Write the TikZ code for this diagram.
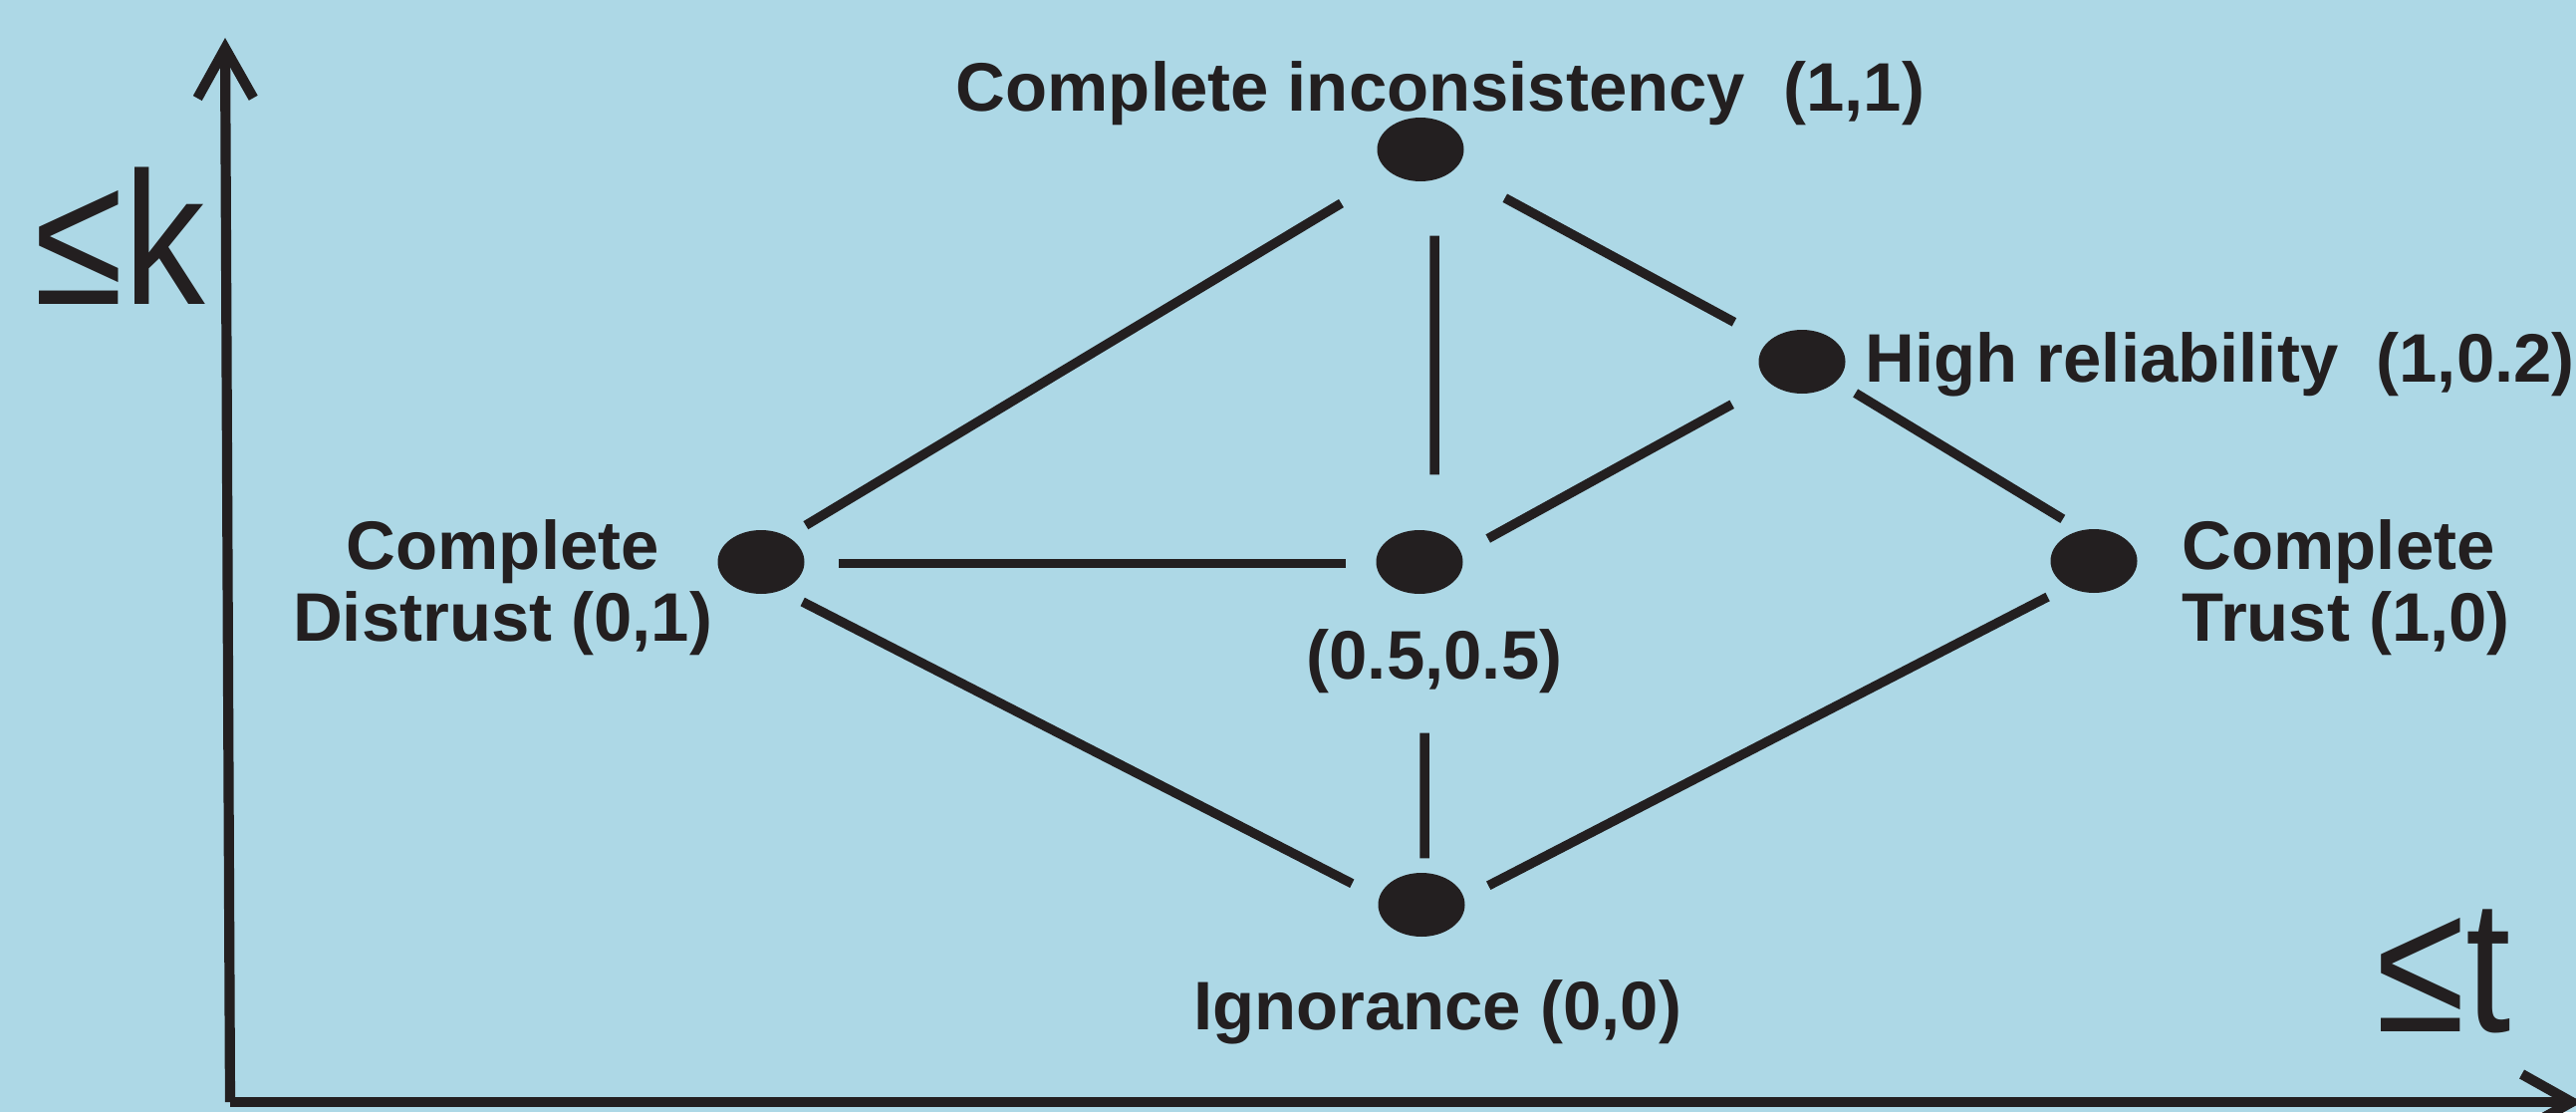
\documentclass[tikz,border=0pt]{standalone}
\usepackage{fontspec}
\setmainfont{Liberation Sans}
\newfontfamily\axisfont[FakeStretch=0.86]{Liberation Sans}
\usetikzlibrary{arrows.meta, positioning, shapes.geometric}
\definecolor{bgblue}{RGB}{173,216,230}
\definecolor{ink}{RGB}{35,31,32}

\begin{document}
\begin{tikzpicture}[
  dot/.style={ellipse, fill=ink, minimum width=0.87cm, minimum height=0.64cm, inner sep=0pt},
  link/.style={draw=ink, line width=2.7pt, shorten <=0.25cm, shorten >=0.25cm},
  axis/.style={draw=ink, line width=2.9pt, -{Straight Barb[length=0.5cm, width=0.56cm]}},
  lbl/.style={text=ink, font=\bfseries\fontsize{19.6}{20.5}\selectfont, inner sep=0pt},
  axlbl/.style={text=ink, font=\axisfont\fontsize{54}{60}\selectfont, inner sep=0pt}]
\fill[bgblue] (0,0) rectangle (25.86,11.16);
\useasboundingbox (0,0) rectangle (25.86,11.16);

% axes
\coordinate (o) at (2.31,0.10);
\coordinate (ytop) at (2.26,10.78);
\coordinate (xend) at (25.92,0.10);
\draw[axis] (o) -- (ytop);
\draw[axis] (o) -- (xend);
\node[axlbl, anchor=base west] (kl) at (0.34,8.11) {≤k};
\node[axlbl, anchor=base west] (tl) at (23.85,0.81) {≤t};

% lattice points
\node[dot] (top) at (14.26,9.66) {};
\node[dot] (high) at (18.09,7.53) {};
\node[dot] (dis) at (7.64,5.52) {};
\node[dot] (mid) at (14.25,5.52) {};
\node[dot] (tru) at (21.02,5.53) {};
\node[dot] (ign) at (14.27,2.08) {};

% order relations
\draw[link, shorten <=0.58cm, shorten >=0.21cm] (top.219) -- (dis.44);
\draw[link, shorten <=0.58cm, shorten >=0.39cm] (top.-32) -- (high.148);
\draw[link, shorten <=0.54cm, shorten >=0.55cm] ([xshift=0.14cm]top.south) -- ([xshift=0.15cm]mid.north);
\draw[link, shorten <=0.43cm, shorten >=0.30cm] (high.214) -- (mid.12);
\draw[link, shorten <=0.22cm, shorten >=0.21cm] (high.-30) -- (tru.113);
\draw[link, shorten <=0.34cm, shorten >=0.30cm] (dis.-2) -- (mid.182);
\draw[link, shorten <=0.24cm, shorten >=0.30cm] (dis.-55) -- (ign.170);
\draw[link, shorten <=1.39cm, shorten >=0.14cm] ([xshift=0.05cm]mid.south) -- ([xshift=0.03cm]ign.north);
\draw[link, shorten <=0.22cm, shorten >=0.27cm] (tru.224) -- (ign.9);

% labels
\node[lbl, anchor=base] (topl) at (14.46,10.04) {Complete inconsistency\ \ (1,1)};
\node[lbl, anchor=base west] (highl) at (18.72,7.33) {High reliability\ \ (1,0.2)};
\node[lbl, anchor=north east, align=center] (disl) at (7.16,5.95) {Complete\\Distrust (0,1)};
\node[lbl, anchor=north west, align=left] (trul) at (21.90,5.95) {Complete\\Trust (1,0)};
\node[lbl, anchor=base] (midl) at (14.40,4.35) {(0.5,0.5)};
\node[lbl, anchor=base] (ignl) at (14.43,0.83) {Ignorance (0,0)};
\end{tikzpicture}
\end{document}
